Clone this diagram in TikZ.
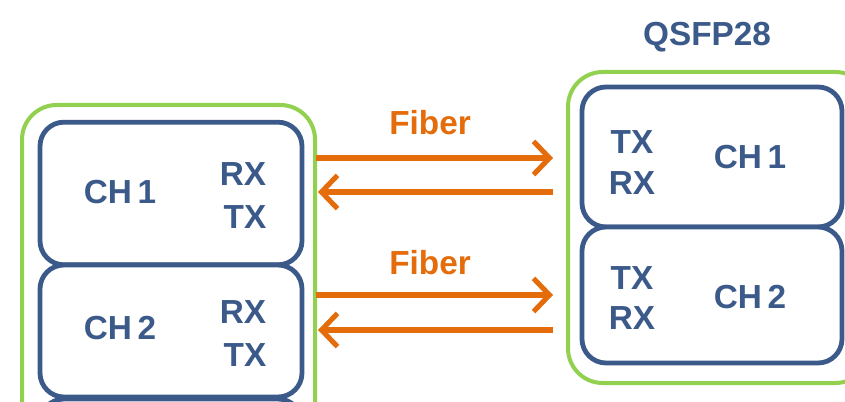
\documentclass[tikz,border=0pt]{standalone}
\usepackage{fontspec}
\setmainfont{Liberation Sans}
\usetikzlibrary{arrows.meta}

\definecolor{modgreen}{HTML}{92D050}
\definecolor{chblue}{HTML}{3B5A8A}
\definecolor{fiberorange}{HTML}{E46C0A}

\tikzset{
  modbox/.style={draw=modgreen,line width=3pt,rounded corners=26pt},
  chbox/.style={draw=chblue,line width=3.6pt,rounded corners=18pt,fill=white},
  lbl/.style={text=chblue,font=\fontsize{25}{27}\selectfont\bfseries,inner sep=0pt},
  fiberlbl/.style={text=fiberorange,font=\fontsize{25}{27}\selectfont\bfseries,inner sep=0pt},
  fiber/.style={draw=fiberorange,line width=3.8pt,-{Straight Barb[length=12pt,width=25pt]}}
}

\begin{document}
\begin{tikzpicture}[x=0.75pt,y=-0.75pt]
  \fill[white] (0,0) rectangle (845,402);
  \useasboundingbox (0,0) rectangle (845,402);
  \clip (0,0) rectangle (845,402);

  % switch side
  \draw[modbox] (22,105) rectangle (315,560);
  \node[chbox,minimum width=196.5pt,minimum height=107pt] (l1) at (171,193.5) {};
  \node[chbox,minimum width=196.5pt,minimum height=99pt] (l2) at (171,331) {};
  \node[chbox,minimum width=196.5pt,minimum height=105pt] (l3) at (171,469) {};

  \node[lbl] (l1ch) at (120,192) {CH\,1};
  \node[lbl] (l1rx) at (243,174) {RX};
  \node[lbl] (l1tx) at (245,217) {TX};
  \node[lbl] (l2ch) at (120,328) {CH\,2};
  \node[lbl] (l2rx) at (243,312) {RX};
  \node[lbl] (l2tx) at (245,355) {TX};

  % QSFP28 side
  \draw[modbox] (568,72) rectangle (870,383);
  \node[chbox,minimum width=195pt,minimum height=105pt] (r1) at (712,157) {};
  \node[chbox,minimum width=195pt,minimum height=102pt] (r2) at (712,295) {};

  \node[lbl] (qsfp) at (707,37) {QSFP28};
  \node[lbl] (r1tx) at (632,142) {TX};
  \node[lbl] (r1rx) at (632,183) {RX};
  \node[lbl] (r1ch) at (750,157) {CH\,1};
  \node[lbl] (r2tx) at (632,278) {TX};
  \node[lbl] (r2rx) at (632,318) {RX};
  \node[lbl] (r2ch) at (750,297) {CH\,2};

  % fibers
  \coordinate (f1a) at (316,158);
  \coordinate (f1b) at (553,158);
  \coordinate (f2a) at (553,192);
  \coordinate (f2b) at (318,192);
  \coordinate (f3a) at (316,295);
  \coordinate (f3b) at (553,295);
  \coordinate (f4a) at (553,330);
  \coordinate (f4b) at (318,330);
  \draw[fiber] (f1a) -- (f1b);
  \draw[fiber] (f2a) -- (f2b);
  \draw[fiber] (f3a) -- (f3b);
  \draw[fiber] (f4a) -- (f4b);
  \node[fiberlbl] (fib1) at (430,123) {Fiber};
  \node[fiberlbl] (fib2) at (430,263) {Fiber};
\end{tikzpicture}
\end{document}
